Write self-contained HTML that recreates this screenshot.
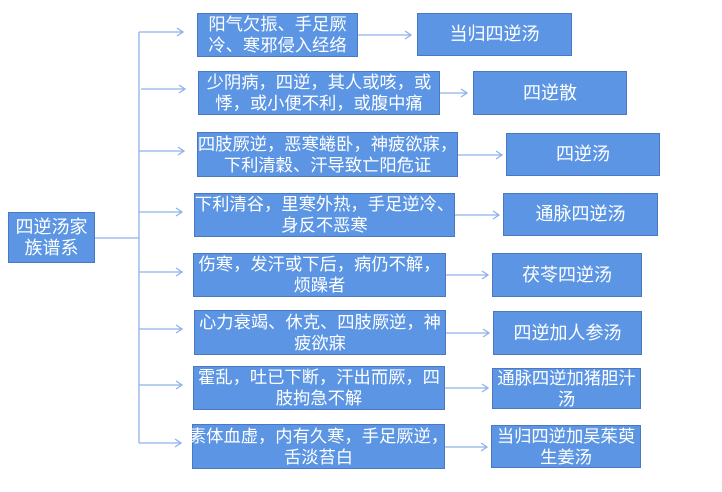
<!DOCTYPE html>
<html><head><meta charset="utf-8"><style>
body{margin:0;width:722px;height:492px;background:#fff;position:relative;overflow:hidden;font-family:"Liberation Sans","Noto Sans CJK SC",sans-serif}
.b{position:absolute;box-sizing:border-box;background:#5b95e3;border:1.5px solid #4a78c2;color:#fff;font-size:17.3px;line-height:21px;display:flex;align-items:center;justify-content:center;text-align:center;letter-spacing:0;white-space:nowrap}
.r{font-size:18px}
svg{position:absolute;left:0;top:0}
</style></head><body>
<svg width="722" height="492"><g stroke="#8fb2ea" stroke-width="1.3" fill="none">
<line x1="95" y1="238" x2="139" y2="238"/>
<line x1="139" y1="32" x2="139" y2="443"/>
<path d="M139 32H183M177 28L183 32L177 36"/>
<path d="M141 89H185M179 85L185 89L179 93"/>
<path d="M139 151H184M178 147L184 151L178 155"/>
<path d="M139 212H182M176 208L182 212L176 216"/>
<path d="M139 272H182M176 268L182 272L176 276"/>
<path d="M139 329H182M176 325L182 329L176 333"/>
<path d="M139 385H182M176 381L182 385L176 389"/>
<path d="M139 443H181M175 439L181 443L175 447"/>
<path d="M358 35H411M405 31L411 35L405 39"/>
<path d="M440 93H467M461 89L467 93L461 97"/>
<path d="M458 155H502M496 151L502 155L496 159"/>
<path d="M455 215H499M493 211L499 215L493 219"/>
<path d="M445 275H488M482 271L488 275L482 279"/>
<path d="M446 333H489M483 329L489 333L483 337"/>
<path d="M445 388H488M482 384L488 388L482 392"/>
<path d="M445 447H487M481 443L487 447L481 451"/>
</g></svg>
<div class="b r" style="left:8px;top:212px;width:87px;height:51px">四逆汤家<br>族谱系</div>
<div class="b" style="left:197px;top:13px;width:161px;height:44px">阳气欠振、手足厥<br>冷、寒邪侵入经络</div>
<div class="b" style="left:198px;top:71px;width:242px;height:44px">少阴病，四逆，其人或咳，或<br>悸，或小便不利，或腹中痛</div>
<div class="b" style="left:197px;top:132px;width:261px;height:45px">四肢厥逆，恶寒蜷卧，神疲欲寐，<br>下利清穀、汗导致亡阳危证</div>
<div class="b" style="left:194px;top:193px;width:261px;height:44px">下利清谷，里寒外热，手足逆冷、<br>身反不恶寒</div>
<div class="b" style="left:193px;top:253px;width:253px;height:44px">伤寒，发汗或下后，病仍不解，<br>烦躁者</div>
<div class="b" style="left:194px;top:310px;width:252px;height:45px">心力衰竭、休克、四肢厥逆，神<br>疲欲寐</div>
<div class="b" style="left:193px;top:366px;width:252px;height:44px">霍乱，吐已下断，汗出而厥，四<br>肢拘急不解</div>
<div class="b" style="left:192px;top:424px;width:253px;height:45px">素体血虚，内有久寒，手足厥逆，<br>舌淡苔白</div>
<div class="b r" style="left:417px;top:13px;width:155px;height:43px">当归四逆汤</div>
<div class="b r" style="left:473px;top:71px;width:154px;height:44px">四逆散</div>
<div class="b r" style="left:506px;top:133px;width:154px;height:43px">四逆汤</div>
<div class="b r" style="left:503px;top:193px;width:155px;height:43px">通脉四逆汤</div>
<div class="b r" style="left:492px;top:253px;width:150px;height:44px">茯苓四逆汤</div>
<div class="b r" style="left:493px;top:311px;width:149px;height:44px">四逆加人参汤</div>
<div class="b" style="left:492px;top:368px;width:149px;height:41px">通脉四逆加猪胆汁<br>汤</div>
<div class="b" style="left:491px;top:425px;width:150px;height:43px">当归四逆加吴茱萸<br>生姜汤</div>
</body></html>
